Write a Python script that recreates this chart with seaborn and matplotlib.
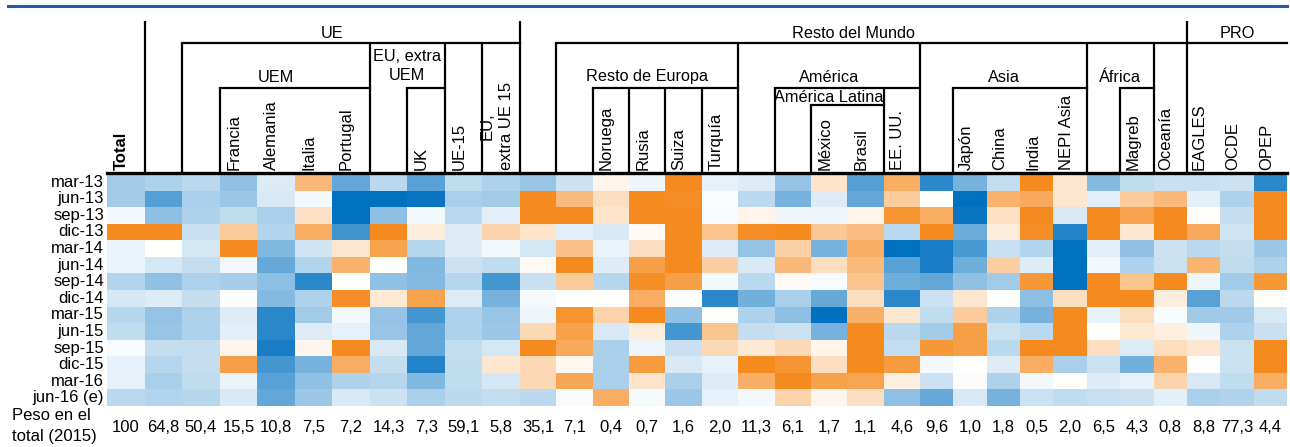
import numpy as np
import pandas as pd
import matplotlib
matplotlib.use('Agg')
import matplotlib.pyplot as plt
import seaborn as sns
from matplotlib.colors import LinearSegmentedColormap

plt.rcParams['font.family'] = ['Liberation Sans', 'DejaVu Sans']

rows = ['mar-13', 'jun-13', 'sep-13', 'dic-13', 'mar-14', 'jun-14', 'sep-14',
        'dic-14', 'mar-15', 'jun-15', 'sep-15', 'dic-15', 'mar-16', 'jun-16 (e)']

cols = ['Total', 'UE', 'UEM', 'Francia', 'Alemania', 'Italia', 'Portugal',
        'EU, extra UEM', 'UK', 'UE-15', 'EU, extra UE 15', 'Resto del Mundo',
        'Resto de Europa', 'Noruega', 'Rusia', 'Suiza', 'Turquía', 'América',
        'América Latina', 'México', 'Brasil', 'EE. UU.', 'Asia', 'Japón', 'China',
        'India', 'NEPI Asia', 'África', 'Magreb', 'Oceanía', 'EAGLES', 'OCDE', 'OPEP']

# text written vertically under each column ('' where the name is a group header)
col_text = ['Total', '', '', 'Francia', 'Alemania', 'Italia', 'Portugal', '', 'UK',
            'UE-15', 'EU,\nextra UE 15', '', '', 'Noruega', 'Rusia', 'Suiza', 'Turquía',
            '', '', 'México', 'Brasil', 'EE. UU.', '', 'Japón', 'China', 'India',
            'NEPI Asia', '', 'Magreb', 'Oceanía', 'EAGLES', 'OCDE', 'OPEP']

weights = [100, 64.8, 50.4, 15.5, 10.8, 7.5, 7.2, 14.3, 7.3, 59.1, 5.8, 35.1, 7.1,
           0.4, 0.7, 1.6, 2.0, 11.3, 6.1, 1.7, 1.1, 4.6, 9.6, 1.0, 1.8, 0.5, 2.0,
           6.5, 4.3, 0.8, 8.8, 77.3, 4.4]

# one list per column, mar-13 .. jun-16 (blue < 0 < orange)
ue_cols = [
    [-1.1, -1.1, -0.15, 3, -0.25, -0.25, -0.9, -0.5, -0.85, -0.75, -0.08, -0.3, -0.3, -0.8],
    [-0.95, -2.0, -1.35, 3, 0, -0.5, -1.3, -0.4, -1.25, -1.2, -0.7, -0.85, -1.0, -0.9],
    [-0.8, -1.0, -0.95, -0.65, -0.5, -0.7, -0.95, -0.7, -0.95, -0.95, -0.7, -0.7, -0.75, -0.85],
    [-1.3, -1.15, -0.75, 1.33, 3, -0.15, -1.05, -0.05, -0.4, -0.35, 0.22, 2.45, -0.25, -0.45],
    [-0.4, -0.45, -1.0, -0.9, -1.5, -1.8, -1.35, -1.45, -2.5, -2.5, -2.7, -2.2, -1.95, -1.85],
    [1.8, -0.15, 0.75, 2.1, -0.55, -0.9, -2.5, -0.95, -1.1, -0.4, 0.22, -1.6, -1.3, -1.15],
    [-1.85, -3, -3, -2.25, 0.64, 1.95, 0, 2.9, -0.15, -0.3, 3, 2.1, -0.95, -0.45],
    [-0.8, -3, -1.35, 3, 2.35, 0, -1.3, 0.57, -1.25, -1.2, -0.45, -0.7, -0.85, -0.6],
    [-1.95, -2.9, -0.15, 0.46, -0.85, -1.5, -1.45, 2.35, -2.2, -1.85, -1.85, -2.6, -1.5, -1.0],
    [-0.75, -1.0, -0.8, -0.4, -0.4, -0.6, -0.85, -0.4, -0.95, -0.95, -0.72, -0.75, -0.75, -0.78],
    [-0.95, -1.1, -0.35, 1.13, -0.15, -0.75, -2.2, -1.6, -1.2, -1.15, -0.5, 0.64, -0.5, -0.7],
]
mundo_cols = [
    [-1.2, 3, 3, 0.69, -0.5, 0.15, -0.65, -0.12, -0.2, 0.97, 3, 1.0, 1.0, -0.8],
    [-0.6, 1.75, 3, -0.35, 1.55, 3, 1.33, 0, 2.72, 2.4, 2.2, 0.2, 2.25, -0.08],
    [0.3, 0.8, 0.69, -0.45, -0.25, -0.38, -0.85, 0, 1.13, -0.45, -1.0, -1.0, -1.0, 2.1],
    [-0.2, 3, 3, 0.12, 0.8, 2.45, 2.9, 2.1, 3, 0.46, -0.2, 2.55, 0.69, -0.12],
    [3, 2.9, 3, 3, 3, 3, 2.45, 0, -1.3, -2.2, -0.65, -0.45, -1.0, -1.15],
    [-0.3, -0.07, -0.08, 1.51, -0.4, 1.25, -0.15, -2.5, 0, 1.51, 0.97, -0.3, -0.4, -0.3],
    [-0.4, -0.8, 0.27, 2.9, -1.25, -0.45, -0.8, -1.65, -0.95, -0.68, 0.57, 3, 2.05, -0.15],
    [-1.25, -1.6, -0.2, 3, 1.2, 1.8, 0.15, -1.0, -1.35, -0.6, 0.97, 2.72, 3, 1.13],
    [0.69, -0.4, -0.2, 1.41, -1.6, 0.87, -0.08, -1.8, -3, -1.6, 0.3, 0.8, 2.4, 0.27],
    [-2.0, -1.85, 0.3, 1.7, 2.05, 1.75, 1.51, 0.87, 2.0, 3, 3, 3, 2.3, 0.8],
    [2.1, 1.33, 2.72, -0.8, -3, -1.95, -1.7, -2.5, 0.64, -0.8, -0.72, 2.55, 0.4, -1.3],
    [-2.5, 0, 2.1, 3, -2.7, -2.7, -1.85, -0.6, -0.75, -1.1, 2.65, -0.15, -0.6, -1.8],
    [-1.6, -3, -2.9, -1.75, -2.15, -1.7, -1.3, 0.64, 1.33, 2.45, 2.45, 0, -0.06, -0.45],
    [-0.72, 1.95, 0.75, 0.46, -0.65, 1.25, -1.1, 0, -0.95, -0.62, -0.8, -0.38, -0.95, -1.6],
    [3, 2.2, 3, 2.9, -0.9, -0.38, 2.65, -1.35, -1.6, -0.8, 3, 2.1, -0.15, -0.62],
    [0.64, 0.64, -0.45, -2.6, -3, -3, -3, 0.87, 3, 3, 3, -1.0, 0.08, -0.75],
    [-1.45, -0.35, 3, 3, -0.35, -0.15, 3, 3, -0.28, 0, 0.8, -0.62, -0.42, -0.66],
    [-0.75, 1.33, 2.35, 0.64, -1.3, -0.95, 1.51, 3, 0.87, 0.6, -0.4, -1.65, -0.3, -0.6],
    [-0.65, 1.8, 3, 3, -0.6, -0.62, 3, 0.46, -0.08, 0.42, 0.87, 1.95, 1.1, -0.35],
]
pro_cols = [
    [-0.65, -0.32, 0.08, 2.2, -0.8, 1.9, -0.2, -1.95, -1.12, -0.2, 0.64, 0, -0.45, -1.0],
    [-0.6, -0.95, -0.68, -0.55, -0.68, -0.74, -1.1, -0.8, -1.12, -0.95, -0.62, -0.62, -0.75, -0.92],
    [-2.5, 3, 3, 3, -1.15, -0.95, 2.65, 0, -0.45, -0.65, 3, 3, 2.1, -0.75],
]

df = pd.DataFrame(np.array(ue_cols + mundo_cols + pro_cols).T, index=rows, columns=cols)

cmap = LinearSegmentedColormap.from_list('bwo', ['#0070C0', '#FFFFFF', '#F58A1F'])

W, H = 1290, 447
fs = 12
fig = plt.figure(figsize=(W / 100, H / 100), dpi=100)

# heatmap drawn in three blocks so the column widths follow the original layout
top, bottom = 174, 406
spans = [(107, 520, 0, 11), (520, 920, 11, 22), (920, 1287, 22, 33)]
edges = []
for k, (x0, x1, c0, c1) in enumerate(spans):
    ax = fig.add_axes([x0 / W, 1 - bottom / H, (x1 - x0) / W, (bottom - top) / H])
    sns.heatmap(df.iloc[:, c0:c1], ax=ax, cmap=cmap, vmin=-3, vmax=3, cbar=False,
                xticklabels=False, yticklabels=(k == 0))
    ax.set_xlabel('')
    ax.set_ylabel('')
    ax.tick_params(length=0)
    if k == 0:
        ax.set_yticklabels(rows, rotation=0, fontsize=fs)
        ax.tick_params(axis='y', pad=2)
    n = c1 - c0
    edges += [x0 + (x1 - x0) * i / n for i in range(n)]
edges.append(spans[-1][1])

hd = fig.add_axes([0, 0, 1, 1], facecolor='none')
hd.set_xlim(0, W)
hd.set_ylim(H, 0)
hd.axis('off')

hd.plot([8, 1287], [6, 6], color='#1F5AA6', lw=2.2)

lw = 1.6
# vertical header lines: (boundary index, top y)
vlines = [(1, 21), (11, 21), (30, 21),
          (2, 43), (7, 43), (9, 43), (10, 43), (12, 43), (17, 43), (22, 43), (27, 43), (29, 43),
          (3, 88), (8, 88), (13, 88), (14, 88), (15, 88), (16, 88), (18, 88), (21, 88),
          (23, 88), (28, 88), (19, 105)]
for b, y0 in vlines:
    hd.plot([edges[b], edges[b]], [y0, top], color='black', lw=lw, solid_capstyle='butt')

hlines = [(43, 2, 11), (43, 12, 33),
          (88, 3, 7), (88, 8, 9), (88, 13, 17), (88, 18, 22), (88, 23, 27), (88, 28, 29),
          (105, 19, 21)]
for y, b0, b1 in hlines:
    hd.plot([edges[b0], edges[b1]], [y, y], color='black', lw=lw, solid_capstyle='projecting')
hd.plot([edges[0], edges[-1]], [top - 1, top - 1], color='black', lw=2.4)

# group labels: (text, first boundary, last boundary, y)
groups = [('UE', 1, 11, 33), ('Resto del Mundo', 11, 30, 33), ('PRO', 30, 33, 33),
          ('UEM', 2, 7, 77), ('EU, extra\nUEM', 7, 9, 66), ('Resto de Europa', 12, 17, 77),
          ('América', 17, 22, 77), ('Asia', 22, 27, 77), ('África', 27, 29, 77),
          ('América Latina', 18, 21, 97)]
for txt, b0, b1, y in groups:
    hd.text((edges[b0] + edges[b1]) / 2, y, txt, ha='center', va='center',
            fontsize=11.7, linespacing=1.35)

for i, txt in enumerate(col_text):
    if not txt:
        continue
    x = edges[i] + (edges[i + 1] - edges[i]) * 0.38
    hd.text(x, 170, txt, rotation=90, ha='center', va='bottom', fontsize=fs,
            fontweight='bold' if txt == 'Total' else 'normal', linespacing=1.3)

for i, w in enumerate(weights):
    lab = '100' if w == 100 else f'{w:.1f}'.replace('.', ',')
    hd.text((edges[i] + edges[i + 1]) / 2, 427, lab, ha='center', va='center', fontsize=fs)

hd.text(12, 416, 'Peso en el', ha='left', va='center', fontsize=fs)
hd.text(12, 436, 'total (2015)', ha='left', va='center', fontsize=fs)

fig.savefig('out.png', dpi=100)
